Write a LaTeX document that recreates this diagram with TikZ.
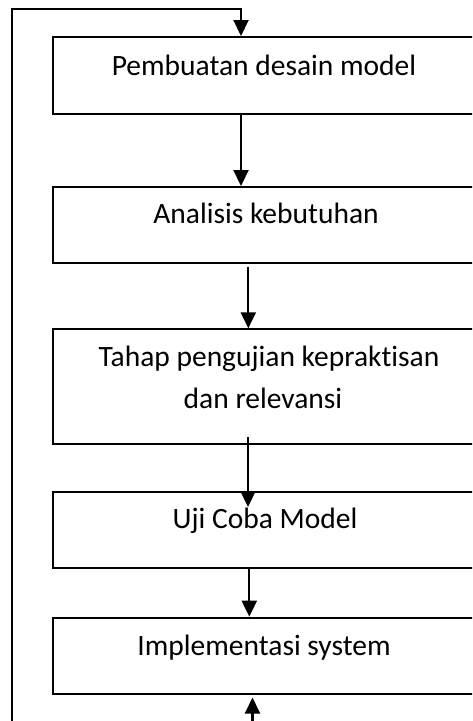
\documentclass[tikz,border=0pt]{standalone}
\usepackage{fontspec}
\setmainfont[Ligatures=NoCommon]{Carlito}
\usetikzlibrary{arrows.meta}
\begin{document}
\begin{tikzpicture}[x=1pt,y=-1pt,
  box/.style={draw, line width=1.8pt, minimum width=440pt, inner sep=0pt, anchor=north west},
  label/.style={anchor=base, inner sep=0pt, font=\fontsize{29.5}{42}\selectfont},
  arr/.style={line width=2.1pt, -{Triangle[width=15pt,length=16pt]}}]
\useasboundingbox (0,0) rectangle (472,721);
\clip (0,0) rectangle (472,721);

% process boxes
\node[box, minimum height=76.7pt] (b1) at (52,36) {};
\node[box, minimum height=76.3pt] (b2) at (52,186) {};
\node[box, minimum height=114.4pt] (b3) at (52,328.3) {};
\node[box, minimum height=76pt] (b4) at (52,490.7) {};
\node[box, minimum height=76pt] (b5) at (52,616.7) {};

% box captions
\node[label] (t1) at (264,75) {Pembuatan desain model};
\node[label] (t2) at (266,223) {Analisis kebutuhan};
\node[label] (t3a) at (269,366) {Tahap pengujian kepraktisan};
\node[label] (t3b) at (263,408) {dan relevansi};
\node[label] (t4) at (265,528) {Uji Coba Model};
\node[label] (t5) at (264,655) {Implementasi system};

% feedback loop around the left side
\coordinate (fb) at (12.3,730);
\coordinate (ft) at (241,9);
\draw[arr] (fb) |- (ft) -- (b1.north -| ft);

% flow between the steps
\coordinate (x1) at (241,0);
\coordinate (x2) at (248.3,0);
\coordinate (s3) at (248,437);
\coordinate (e3) at (248,507);
\coordinate (x4) at (249.3,0);
\coordinate (s5) at (252.5,730);
\coordinate (e5) at (252.5,697.5);
\draw[arr] (b1.south -| x1) -- (b2.north -| x1);
\draw[arr] (b2.south -| x2) ++(0,2.5) -- (b3.north -| x2);
\draw[arr] (s3) -- (e3);
\draw[arr] (b4.south -| x4) -- (b5.north -| x4);
\draw[arr] (s5) -- (e5);
\end{tikzpicture}
\end{document}
